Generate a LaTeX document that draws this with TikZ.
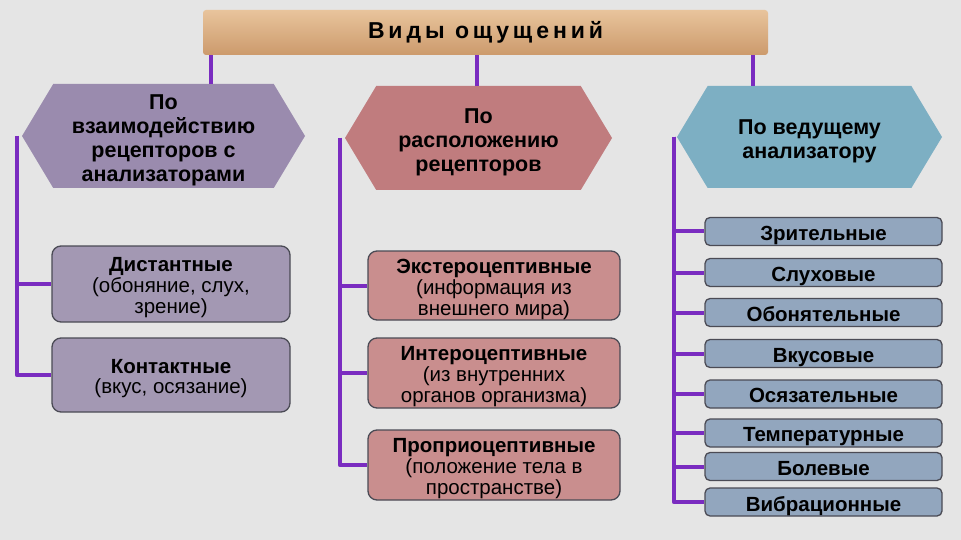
\documentclass[tikz,border=0pt]{standalone}
\usepackage{fontspec}
\setmainfont{Liberation Sans}
\usetikzlibrary{shapes.symbols}
\definecolor{fonbg}{HTML}{E5E5E5}
\definecolor{liniya}{HTML}{7A2CC0}
\definecolor{zagtop}{HTML}{E8C49C}
\definecolor{zagbot}{HTML}{CC9A6C}
\definecolor{hexlil}{HTML}{9A8BAE}
\definecolor{hexros}{HTML}{C07C7E}
\definecolor{hexgol}{HTML}{7DAFC3}
\definecolor{boxlil}{HTML}{A398B3}
\definecolor{boxros}{HTML}{C98E8E}
\definecolor{boxgol}{HTML}{92A6BE}
\definecolor{obvod}{HTML}{4B4B55}
% строки текста, чуть опущенные вниз
\newcommand{\vniz}[1]{\raisebox{-4.5pt}[\height][\depth]{\begin{tabular}{@{}c@{}}#1\end{tabular}}}
\begin{document}
\begin{tikzpicture}[x=1pt,y=-1pt,line join=round,
  link/.style={draw=liniya,line width=4pt},
  zag/.style={rectangle,rounded corners=3pt,top color=zagtop,bottom color=zagbot,
    minimum width=565pt,minimum height=45pt,inner sep=0pt,
    font=\bfseries\fontsize{23}{26}\selectfont\addfontfeature{LetterSpace=17}},
  hexa/.style={shape=signal,signal to=west and east,signal pointer angle=118,
    minimum width=283pt,minimum height=104pt,inner sep=0pt,
    font=\bfseries\fontsize{21.5}{24}\selectfont},
  card/.style={rectangle,rounded corners=9pt,draw=obvod,line width=1.3pt,
    minimum width=238pt,minimum height=74pt,inner sep=0pt,
    font=\fontsize{20.5}{20}\selectfont},
  vid/.style={rectangle,rounded corners=5pt,draw=obvod,line width=1.3pt,fill=boxgol,
    minimum width=237pt,minimum height=28pt,inner sep=0pt,
    font=\bfseries\fontsize{20.5}{20}\selectfont}]
\fill[fonbg] (0,0) rectangle (961,540);
\useasboundingbox (0,0) rectangle (961,540);
% заголовок и три признака
\node[zag] (V) at (485.5,32.5) {Виды ощущений};
\node[hexa,fill=hexlil] (H1) at (163.5,136) {\vniz{По\\взаимодействию\\рецепторов  с\\анализаторами}};
\node[hexa,fill=hexros,minimum width=267pt] (H2) at (478.5,138) {\vniz{По\\расположению\\рецепторов}};
\node[hexa,fill=hexgol,minimum width=265pt,minimum height=102pt] (H3) at (809.5,137) {\vniz{По  ведущему\\анализатору}};
% по взаимодействию
\node[card,fill=boxlil,minimum height=76pt] (D1) at (171,284) {\vniz{\textbf{Дистантные}\\(обоняние, слух,\\зрение)}};
\node[card,fill=boxlil] (D2) at (171,375) {\vniz{\textbf{Контактные}\\(вкус, осязание)}};
% по расположению
\node[card,fill=boxros,minimum width=252pt,minimum height=69pt] (E1) at (494,285.5) {\vniz{\textbf{Экстероцептивные}\\(информация  из\\внешнего  мира)}};
\node[card,fill=boxros,minimum width=252pt,minimum height=70pt] (E2) at (494,373) {\vniz{\textbf{Интероцептивные}\\(из  внутренних\\органов  организма)}};
\node[card,fill=boxros,minimum width=252pt,minimum height=70pt] (E3) at (494,465) {\vniz{\textbf{Проприоцептивные}\\(положение  тела  в\\пространстве)}};
% по ведущему анализатору
\foreach \n/\y/\t in {A1/231.5/Зрительные,A2/272.5/Слуховые,A3/312.5/Обонятельные,
  A4/353.5/Вкусовые,A5/394/Осязательные,A6/433/Температурные,A7/466.5/Болевые,A8/502/Вибрационные}
  \node[vid] (\n) at (823.5,\y) {\vniz{\t}};
% линии
\draw[link] ([xshift=47pt]H1.north) -- ([xshift=47pt]H1.north |- V.south);
\draw[link] ([xshift=-1.5pt]H2.north) -- ([xshift=-1.5pt]H2.north |- V.south);
\draw[link] ([xshift=-57pt]H3.north) -- ([xshift=-57pt]H3.north |- V.south);
\foreach \n in {D1,D2}
  \draw[link] ([xshift=-5pt]H1.west) |- (\n.west);
\foreach \n in {E1,E2,E3}
  \draw[link] ([xshift=-5pt]H2.west) |- (\n.west);
\foreach \n in {A1,A2,A3,A4,A5,A6,A7,A8}
  \draw[link] ([xshift=-3pt]H3.west) |- (\n.west);
\end{tikzpicture}
\end{document}
